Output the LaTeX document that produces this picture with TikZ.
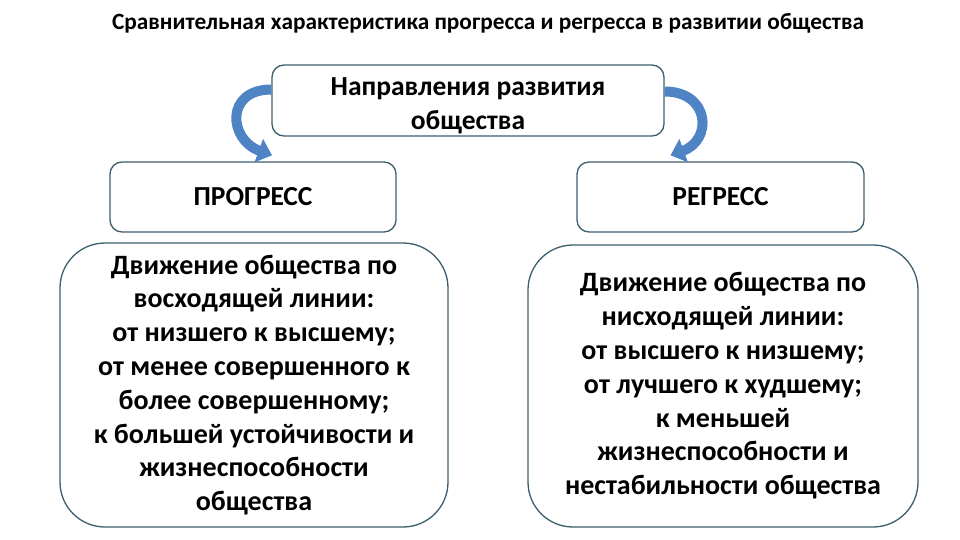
\documentclass[tikz,border=0pt]{standalone}
\usepackage{fontspec}
\setmainfont{Carlito}
\usetikzlibrary{arrows.meta}
\definecolor{edge}{HTML}{3E5E6E}
\definecolor{arrowblue}{HTML}{4F84C4}
\begin{document}
\begin{tikzpicture}[x=1pt, y=-1pt, font=\bfseries, >={Triangle[width=24pt,length=14pt]},
          head/.style={draw=edge, line width=1.3pt, rounded corners=12pt, fill=white, align=center, inner sep=0pt},
          info/.style={draw=edge, line width=1.3pt, rounded corners=45pt, fill=white, align=center, inner sep=0pt},
          curvearrow/.style={->, draw=arrowblue, line width=10pt}]
        \useasboundingbox (0,0) rectangle (960,540);
        \node[font=\bfseries\fontsize{23.3}{28}\selectfont] (title) at (488,23) {Сравнительная характеристика прогресса и регресса в развитии общества};
        \node[head, minimum width=392pt, minimum height=71pt, font=\bfseries\fontsize{27.5}{34}\selectfont] (dir) at (468,100.5) {\rule{0pt}{28pt}Направления развития\\общества};
        \node[head, minimum width=286pt, minimum height=70pt, font=\bfseries\fontsize{27.5}{32}\selectfont] (prog) at (253,197) {ПРОГРЕСС};
        \node[head, minimum width=287pt, minimum height=70pt, font=\bfseries\fontsize{27.5}{32}\selectfont] (regr) at (720.5,197) {РЕГРЕСС};
        \node[info, minimum width=388pt, minimum height=284pt, font=\bfseries\fontsize{28}{33.8}\selectfont] (progtext) at (254,385)
          {Движение общества по\\восходящей линии:\\от низшего к высшему;\\от менее совершенного к\\более совершенному;\\к большей устойчивости и\\жизнеспособности\\общества};
        \node[info, minimum width=390pt, minimum height=282pt, font=\bfseries\fontsize{28}{33.8}\selectfont] (regrtext) at (723,386)
          {Движение общества по\\нисходящей линии:\\от высшего к низшему;\\от лучшего к худшему;\\к меньшей\\жизнеспособности и\\нестабильности общества};
        % curved arrows
        \draw[curvearrow] ([yshift=11pt]dir.west) to[out=180, in=160, looseness=1.8] ([xshift=19pt, yshift=6pt]prog.north);
        \draw[curvearrow] ([yshift=9pt]dir.east) to[out=0, in=20, looseness=1.8] ([xshift=-50pt, yshift=6pt]regr.north);
      \end{tikzpicture}
\end{document}
